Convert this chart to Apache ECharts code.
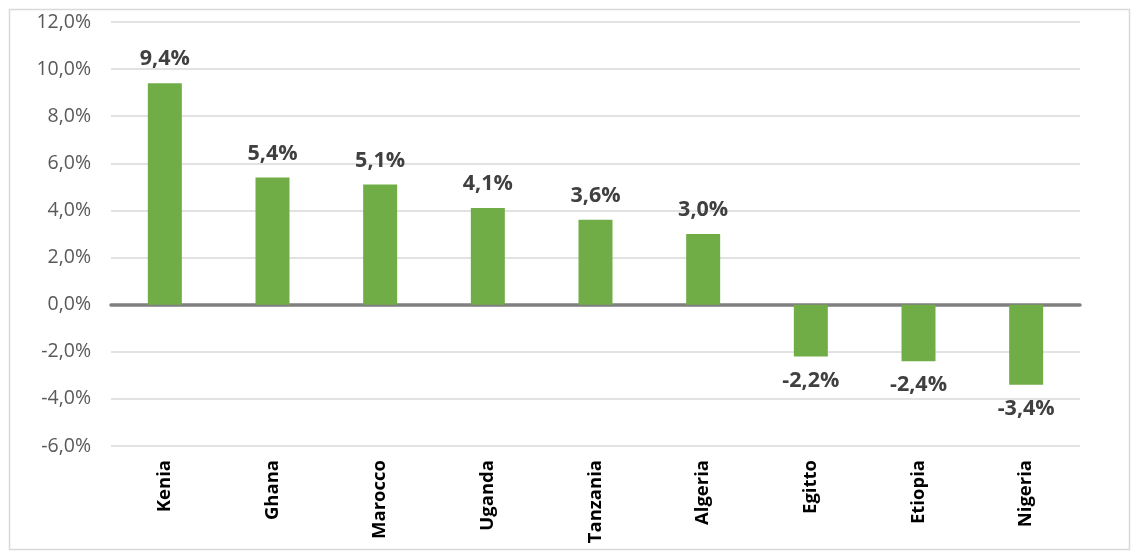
<!DOCTYPE html>
<html><head><meta charset="utf-8">
<script src="https://cdn.jsdelivr.net/npm/echarts@6/dist/echarts.min.js"></script>
<style>html,body{margin:0;padding:0;background:#fff}#c{width:1134px;height:554px}</style>
</head><body><div id="c"></div>
<script>
const categories = ['Kenia','Ghana','Marocco','Uganda','Tanzania','Algeria','Egitto','Etiopia','Nigeria'];
const values = [9.4, 5.4, 5.1, 4.1, 3.6, 3.0, -2.2, -2.4, -3.4];
const yMin = -6, yMax = 12, yStep = 2;

const fmt = v => v.toFixed(1).replace('.', ',') + '%';
const FONT = '"Open Sans", sans-serif';
const chart = echarts.init(document.getElementById('c'));
chart.setOption({
  animation: false,
  backgroundColor: '#fff',
  grid: { left: 111, right: 54, top: 22, bottom: 108 },
  graphic: [{ type: 'rect', left: 7, top: 7, shape: { width: 1120, height: 540 }, style: { fill: 'none', stroke: '#d9d9d9', lineWidth: 1.5 }, silent: true }],
  xAxis: {
    type: 'category', data: categories,
    axisLine: { onZero: true, lineStyle: { color: '#7f7f7f', width: 3.5 } },
    axisTick: { show: false },
    axisLabel: { rotate: 90, fontFamily: FONT, fontWeight: 'bold', fontSize: 18.5, color: '#000', margin: 14 },
    position: 'bottom'
  },
  yAxis: {
    type: 'value', min: yMin, max: yMax, interval: yStep,
    axisLine: { show: false }, axisTick: { show: false },
    splitLine: { lineStyle: { color: '#d9d9d9', width: 1.5 } },
    axisLabel: { formatter: fmt, fontFamily: FONT, fontSize: 19.5, color: '#595959', margin: 20 }
  },
  series: [{
    type: 'bar', barWidth: 34,
    itemStyle: { color: '#70ad47' },
    data: values.map(v => ({ value: v, label: { position: v < 0 ? 'bottom' : 'top' } })),
    label: { show: true, formatter: p => fmt(p.value), fontFamily: FONT, fontWeight: 'bold', fontSize: 21.5, color: '#404040', distance: 13 }
  }]
});
</script></body></html>
